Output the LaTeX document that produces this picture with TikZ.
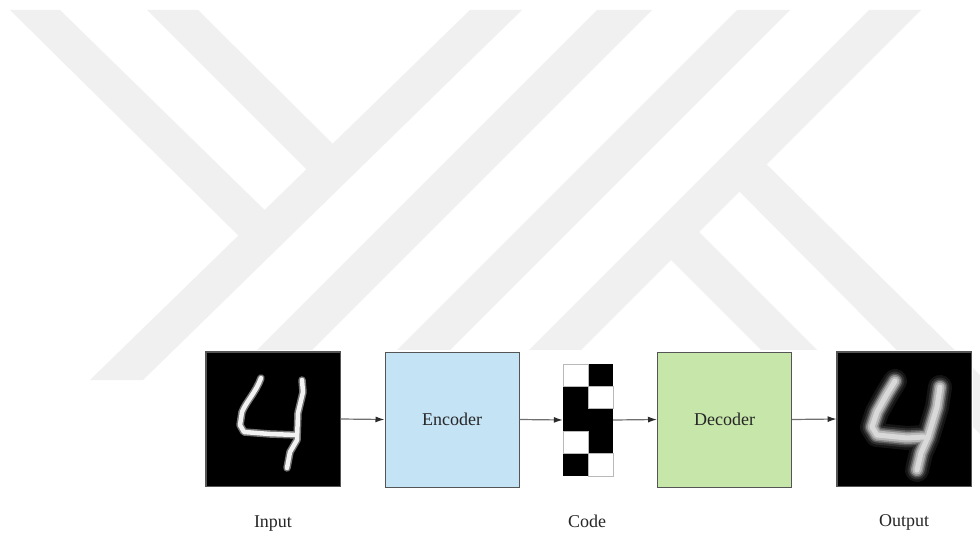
\documentclass[tikz,border=0pt]{standalone}
\usepackage{fontspec}
\setmainfont{Liberation Serif}
\usetikzlibrary{arrows.meta}
\definecolor{wm}{HTML}{F0F0F0}
\definecolor{encfill}{RGB}{196,227,245}
\definecolor{decfill}{RGB}{198,230,170}
\definecolor{edge}{HTML}{555555}
\definecolor{arrc}{HTML}{707070}
\definecolor{tipc}{HTML}{2A2A2A}
\definecolor{txt}{HTML}{262626}
\definecolor{g1}{gray}{0.08}
\definecolor{g2}{gray}{0.18}
\definecolor{g3}{gray}{0.35}
\definecolor{g4}{gray}{0.55}
\definecolor{g5}{gray}{0.72}
\definecolor{g6}{gray}{0.85}
\definecolor{gB}{gray}{0.45}
\definecolor{gD}{gray}{0.95}
\begin{document}
\begin{tikzpicture}[x=1pt,y=-1pt,
  imgbox/.style={draw=edge, line width=0.8pt, fill=black, minimum width=134pt, minimum height=134pt, inner sep=0pt},
  block/.style={draw=edge, line width=1pt, minimum width=134pt, minimum height=135pt, inner sep=0pt, text=txt, font=\fontsize{18}{20}\selectfont},
  lbl/.style={text=txt, font=\fontsize{18}{20}\selectfont, inner sep=0pt, anchor=base},
  arr/.style={draw=arrc, line width=1.2pt, -{Latex[length=9pt,width=6pt,color=tipc]}},
  cellw/.style={fill=white, draw=gray!55, line width=0.8pt},
  cellb/.style={fill=black},
  codebox/.style={minimum width=50pt, minimum height=112pt, inner sep=0pt},
  stroke/.style={line cap=round, line join=round}
]
\useasboundingbox (0,0) rectangle (980,535);
\fill[white] (0,0) rectangle (980,535);
% watermark
\begin{scope}[fill=wm]
\fill (470,10) -- (522,10) -- (143,380) -- (90,380) -- cycle;
\fill (10,10) -- (60,10) -- (280,225) -- (250,247) -- cycle;
\fill (147,10) -- (198,10) -- (345,156) -- (318,181) -- cycle;
\fill (597,10) -- (652,10) -- (292,370) -- (237,370) -- cycle;
\fill (737,10) -- (790,10) -- (430,370) -- (377,370) -- cycle;
\fill (869,10) -- (921,10) -- (561,370) -- (509,370) -- cycle;
\fill (750,148) -- (990,385) -- (990,444) -- (723,175) -- cycle;
\fill (682,215) -- (837,370) -- (781,370) -- (653,242) -- cycle;
\end{scope}
\fill[white] (185,350) rectangle (973,535);
% nodes
\node[imgbox] (in) at (273,419) {};
\node[block, fill=encfill] (enc) at (452,419.5) {Encoder};
\node[codebox] (code) at (588,420) {};
\node[block, fill=decfill] (dec) at (724.5,419.5) {Decoder};
\node[imgbox] (out) at (904,419) {};
% code cells
\fill[cellb] (588,364) rectangle (613,386.4);
\fill[cellb] (563,386.4) rectangle (588,408.8);
\fill[cellb] (563,408.8) rectangle (613,431.2);
\fill[cellb] (588,431.2) rectangle (613,453.6);
\fill[cellb] (563,453.6) rectangle (588,476);
\draw[cellw] (563,364) rectangle (588,386.4);
\draw[cellw] (588,386.4) rectangle (613,408.8);
\draw[cellw] (563,431.2) rectangle (588,453.6);
\draw[cellw] (588,453.6) rectangle (613,476);
% input digit
\begin{scope}
\clip (in.south west) rectangle (in.north east);
\def\inL{(261,378) .. controls (256,392) and (246,402) .. (242,412) -- (240,425) -- (244,432) -- (270,434) -- (297,435)}
\def\inR{(302,380) -- (303,392) -- (298,413) -- (297,440) -- (290,452) -- (287,468)}
\draw[stroke, gB, line width=7.5pt] \inL;
\draw[stroke, gB, line width=7.5pt] \inR;
\draw[stroke, gD, line width=4.5pt] \inL;
\draw[stroke, gD, line width=4.5pt] \inR;
\end{scope}
% output digit
\begin{scope}
\clip (out.south west) rectangle (out.north east);
\def\outL{(895,381) -- (887,394) -- (877,412) -- (872,427) -- (877,435) -- (907,438) -- (924,437)}
\def\outR{(940,387) -- (937,407) -- (928,437) -- (921,453) -- (917,470)}
\foreach \c/\w in {g1/24, g2/19, g3/15, g4/12, g5/9, g6/5}{
  \draw[stroke, \c, line width=\w pt] \outL;
  \draw[stroke, \c, line width=\w pt] \outR;
}
\end{scope}
\draw[imgbox, fill=none] (in.south west) rectangle (in.north east);
\draw[imgbox, fill=none] (out.south west) rectangle (out.north east);
% arrows
\draw[arr] (in.east) -- (enc.west);
\draw[arr] (enc.east) -- (code.west);
\draw[arr] (code.east) -- (dec.west);
\draw[arr] (dec.east) -- (out.west);
% labels
\node[lbl] (lin) at (273,527) {Input};
\node[lbl] (lcode) at (587,527) {Code};
\node[lbl] (lout) at (904,526) {Output};
\end{tikzpicture}
\end{document}
